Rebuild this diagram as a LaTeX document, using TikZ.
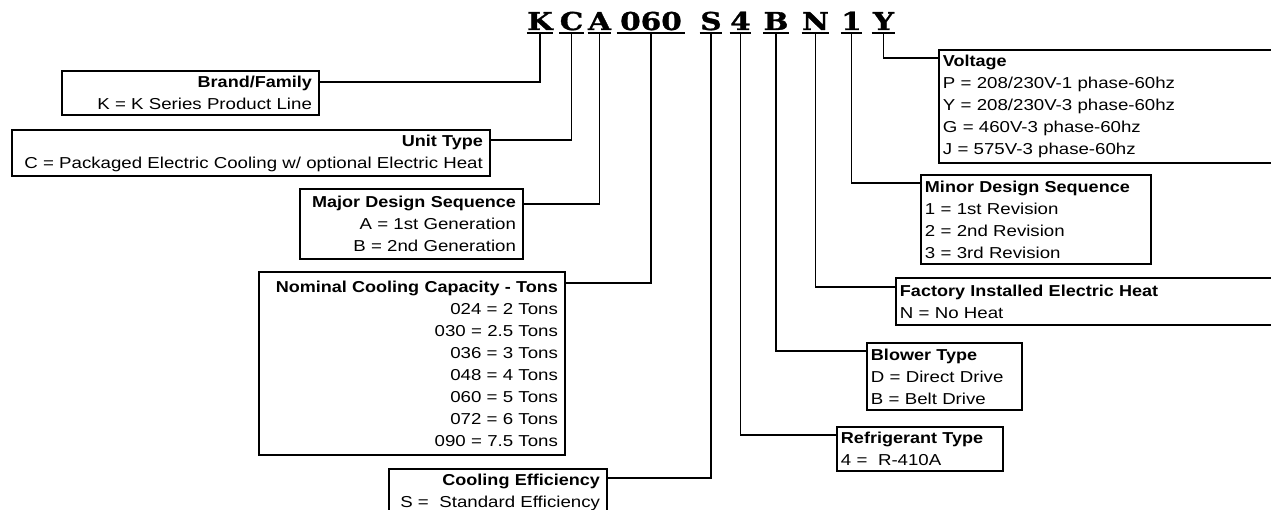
\documentclass[tikz,border=0pt]{standalone}
\usepackage{fontspec}
\setmainfont{Liberation Sans}[FakeStretch=1.18]
\newfontfamily\headfont{Liberation Sans}[FakeStretch=1.14]
\newfontfamily\codefont{DejaVu Serif}[FakeStretch=1.2,FakeBold=1.2]
\usetikzlibrary{calc}
\newcommand{\boxhead}[1]{{\headfont\bfseries #1}}

\begin{document}
\begin{tikzpicture}[x=0.02cm,y=-0.02cm,
  code/.style={font=\codefont\fontsize{14}{14}\selectfont\bfseries,anchor=base,
    inner xsep=0pt,inner ysep=0.05cm,text depth=0pt},
  uline/.style={line width=1pt},
  wire/.style={line width=1.1pt},
  lbox/.style={draw,line width=1.1pt,anchor=north west,align=right,
    inner xsep=0.14cm,inner ysep=0pt,font=\fontsize{9}{12.52}\selectfont},
  rbox/.style={lbox,align=left,inner xsep=0.08cm}]
  \useasboundingbox (0,0) rectangle (1271,510);
  % model number
  \node[code,minimum width=0.44cm] (K) at (540,30) {K};
  \node[code,minimum width=0.46cm] (C) at (571.5,30) {C};
  \node[code,minimum width=0.46cm] (A) at (599.5,30) {A};
  \node[code,minimum width=1.36cm] (num) at (651,30) {060};
  \node[code,minimum width=0.44cm] (S) at (711,30) {S};
  \node[code,minimum width=0.42cm] (four) at (740.5,30) {4};
  \node[code,minimum width=0.44cm] (B) at (776,30) {B};
  \node[code,minimum width=0.50cm] (N) at (815.5,30) {N};
  \node[code,minimum width=0.34cm] (one) at (851.5,30) {1};
  \node[code,minimum width=0.46cm] (Y) at (883.5,30) {Y};
  \draw[uline] (K.south west) -- (K.south east);
  \draw[uline] (C.south west) -- (C.south east);
  \draw[uline] (A.south west) -- (A.south east);
  \draw[uline] (num.south west) -- (num.south east);
  \draw[uline] (S.south west) -- (S.south east);
  \draw[uline] (four.south west) -- (four.south east);
  \draw[uline] (B.south west) -- (B.south east);
  \draw[uline] (N.south west) -- (N.south east);
  \draw[uline] (one.south west) -- (one.south east);
  \draw[uline] (Y.south west) -- (Y.south east);
  % left side
  \node[lbox,text width=4.86cm,minimum height=0.88cm] (brand) at (61,70)
    {\boxhead{Brand/Family}\\K = K Series Product Line};
  \node[lbox,text width=9.28cm,minimum height=0.92cm] (unit) at (11,129)
    {\boxhead{Unit Type}\\C = Packaged Electric Cooling w/ optional Electric Heat};
  \node[lbox,text width=4.18cm,minimum height=1.40cm] (major) at (299,188)
    {\boxhead{Major Design Sequence}\\A = 1st Generation\\B = 2nd Generation};
  \node[lbox,text width=5.84cm,minimum height=3.66cm] (tons) at (258,271)
    {\boxhead{Nominal Cooling Capacity - Tons}\\024 = 2 Tons\\030 = 2.5 Tons\\036 = 3 Tons\\
     048 = 4 Tons\\060 = 5 Tons\\072 = 6 Tons\\090 = 7.5 Tons};
  \node[lbox,text width=4.08cm,minimum height=0.94cm] (eff) at (388,468)
    {\boxhead{Cooling Efficiency}\\S = \ Standard Efficiency};
  % right side
  \node[rbox,text width=7.04cm,minimum height=2.26cm] (volt) at (938,49)
    {\boxhead{Voltage}\\P = 208/230V-1 phase-60hz\\Y = 208/230V-3 phase-60hz\\
     G = 460V-3 phase-60hz\\J = 575V-3 phase-60hz};
  \node[rbox,text width=4.44cm,minimum height=1.78cm] (minor) at (920,174)
    {\boxhead{Minor Design Sequence}\\1 = 1st Revision\\2 = 2nd Revision\\3 = 3rd Revision};
  \node[rbox,text width=7.84cm,minimum height=0.94cm] (heat) at (895,277)
    {\boxhead{Factory Installed Electric Heat}\\N = No Heat};
  \node[rbox,text width=2.94cm,minimum height=1.34cm] (blower) at (866,342)
    {\boxhead{Blower Type}\\D = Direct Drive\\B = Belt Drive};
  \node[rbox,text width=3.16cm,minimum height=0.88cm] (refr) at (836,426)
    {\boxhead{Refrigerant Type}\\4 = \ R-410A};
  % connectors
  \draw[wire] (K.south) |- ($(brand.north east)+(0,12)$);
  \draw[wire] (C.south) |- ($(unit.north east)+(0,11)$);
  \draw[wire] (A.south) |- ($(major.north east)+(0,16)$);
  \draw[wire] (num.south) |- ($(tons.north east)+(0,12)$);
  \draw[wire] (S.south) |- ($(eff.north east)+(0,10)$);
  \draw[wire] (four.south) |- ($(refr.north west)+(0,9)$);
  \draw[wire] (B.south) |- ($(blower.north west)+(0,9)$);
  \draw[wire] (N.south) |- ($(heat.north west)+(0,10)$);
  \draw[wire] (one.south) |- ($(minor.north west)+(0,9)$);
  \draw[wire] (Y.south) |- ($(volt.north west)+(0,9)$);
\end{tikzpicture}
\end{document}
